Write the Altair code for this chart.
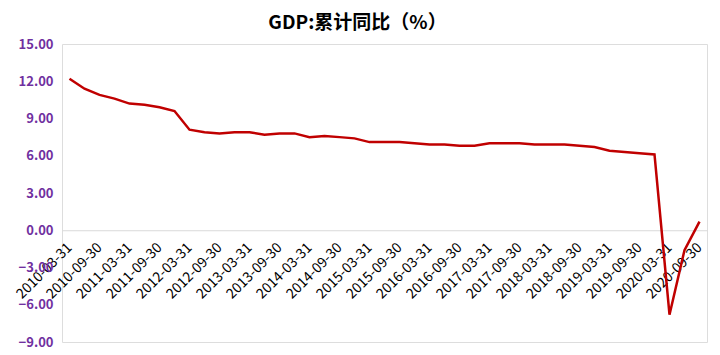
import altair as alt
import pandas as pd

quarters = ["03-31", "06-30", "09-30", "12-31"]
dates = [f"{y}-{q}" for y in range(2010, 2021) for q in quarters][:43]
values = [12.2, 11.4, 10.9, 10.6,
          10.2, 10.1, 9.9, 9.6,
          8.1, 7.9, 7.8, 7.9,
          7.9, 7.7, 7.8, 7.8,
          7.5, 7.6, 7.5, 7.4,
          7.1, 7.1, 7.1, 7.0,
          6.9, 6.9, 6.8, 6.8,
          7.0, 7.0, 7.0, 6.9,
          6.9, 6.9, 6.8, 6.7,
          6.4, 6.3, 6.2, 6.1,
          -6.8, -1.6, 0.7]
label_dates = [d for d in dates if d.endswith("03-31") or d.endswith("09-30")]
y_ticks = [-9, -6, -3, 0, 3, 6, 9, 12, 15]

df = pd.DataFrame({"date": dates, "value": values})

W, H = 645, 298
zero_offset = -(H - H * 15 / 24)

FONT = "Noto Sans CJK SC"

chart = alt.Chart(df).mark_line(color="#C00000", strokeWidth=2.5).encode(
    x=alt.X("date:N", sort=None, title=None,
            scale=alt.Scale(type="point", padding=0.5),
            axis=alt.Axis(values=label_dates, labelAngle=315, labelAlign="right",
                          labelBaseline="middle", labelFontSize=14, labelColor="#000000",
                          labelFont=FONT, ticks=False, domain=True, domainColor="#d9d9d9",
                          domainWidth=1, grid=False, labelOverlap=False,
                          offset=zero_offset, labelPadding=15)),
    y=alt.Y("value:Q", title=None,
            scale=alt.Scale(domain=[-9, 15], nice=False, zero=False),
            axis=alt.Axis(values=y_ticks, format=".2f", grid=False, ticks=False, domain=False,
                          labelOverlap=False,
                          labelColor="#7030A0", labelFontWeight="bold", labelFontSize=13,
                          labelFont=FONT, labelPadding=9, minExtent=54, maxExtent=54)),
).properties(
    width=W, height=H,
    title=alt.TitleParams("GDP:累计同比（%）", font=FONT, fontSize=19, fontWeight="bold",
                          color="#000000", anchor="middle", frame="bounds", offset=5),
    padding={"left": 0, "top": 6, "right": 5, "bottom": 0},
).configure_view(stroke=None).configure_axis(labelOverlap=False).configure(background="white")

chart.save("out.html", embed_options={"renderer": "svg", "actions": False})
